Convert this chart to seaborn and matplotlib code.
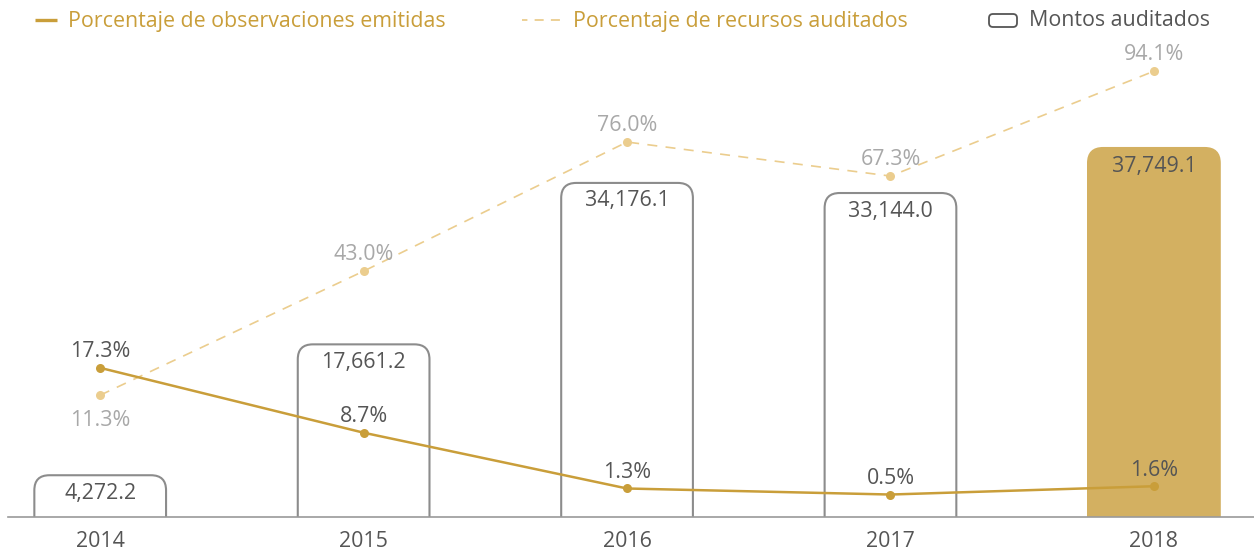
import numpy as np
import pandas as pd
import matplotlib
matplotlib.use('Agg')
import matplotlib.pyplot as plt
import seaborn as sns
from matplotlib.patches import FancyBboxPatch
from matplotlib.lines import Line2D

# data
years = ['2014', '2015', '2016', '2017', '2018']
montos = [4272.2, 17661.2, 34176.1, 33144.0, 37749.1]
pct_observaciones = [17.3, 8.7, 1.3, 0.5, 1.6]
pct_recursos = [11.3, 43.0, 76.0, 67.3, 94.1]
recursos_label_below = [True, False, False, False, False]

GOLD = '#C99E3A'
GOLD_LIGHT = '#EBCD8E'
BAR_FILL = '#D3B061'
OUTLINE = '#8C8C8C'
TEXT = '#555555'
TEXT_LIGHT = '#A8A8A8'
FS = 15.4

sns.set_style('white')
plt.rcParams['font.family'] = ['Open Sans', 'DejaVu Sans']

W, H = 1254, 554
fig = plt.figure(figsize=(W / 100, H / 100), dpi=100)
ax = fig.add_axes([8 / W, 37 / H, 1 - 8 / W, 517 / H])

# ------------------------------------------------------------
# bars (Montos auditados)
# ------------------------------------------------------------
df = pd.DataFrame({'year': years, 'monto': montos})
sns.barplot(data=df, x='year', y='monto', ax=ax, width=0.5, color='white')

xlim = (-0.35, 4.38)
ylim = (0, 52890)
ax.set_xlim(xlim)
ax.set_ylim(ylim)

# swap the square bars for rounded-top ones
xpp = (xlim[1] - xlim[0]) / (W - 8)
ypp = (ylim[1] - ylim[0]) / 517
asp = ypp / xpp
r = 15 * xpp
bars = list(ax.patches)
for i, p in enumerate(bars):
    x0, w, h = p.get_x(), p.get_width(), p.get_height()
    p.remove()
    last = i == len(bars) - 1
    fb = FancyBboxPatch((x0, -r * asp), w, h + r * asp,
                        boxstyle=f'round,pad=0,rounding_size={r}',
                        mutation_aspect=asp,
                        fc=BAR_FILL if last else 'white',
                        ec=BAR_FILL if last else OUTLINE,
                        lw=1.5, zorder=2)
    ax.add_patch(fb)
    ax.annotate(f'{montos[i]:,.1f}', (i, montos[i]), xytext=(0, -13),
                textcoords='offset points', ha='center', va='center',
                fontsize=FS, color=TEXT, zorder=3)

ax.set_xlabel('')
ax.set_ylabel('')
ax.set_yticks([])
for s in ['left', 'top', 'right']:
    ax.spines[s].set_visible(False)
ax.spines['bottom'].set_color('#9A9A9A')
ax.spines['bottom'].set_linewidth(1.2)
ax.tick_params(axis='x', which='major', length=0, pad=10, labelsize=FS, labelcolor=TEXT)
xpos = np.arange(len(years))
ax.set_xticks(xpos[:-1] + 0.5, minor=True)
ax.tick_params(axis='x', which='minor', length=5, width=1, color='#9A9A9A', direction='out')

# ------------------------------------------------------------
# dashed line (Porcentaje de recursos auditados)
# ------------------------------------------------------------
ax_rec = ax.twinx()
sns.lineplot(x=xpos, y=pct_recursos, ax=ax_rec, color=GOLD_LIGHT, lw=1.2,
             linestyle=(0, (6, 5)), marker='o', markersize=6.5,
             markeredgewidth=0)
ax_rec.set_ylim(-19.84, 112.3)
ax_rec.set_xlim(xlim)
ax_rec.set_axis_off()
for i, v in enumerate(pct_recursos):
    dy = -18 if recursos_label_below[i] else 12
    ax_rec.annotate(f'{v:.1f}%', (i, v), xytext=(0, dy), textcoords='offset points',
                    ha='center', va='center', fontsize=FS, color=TEXT_LIGHT)

# ------------------------------------------------------------
# solid line (Porcentaje de observaciones emitidas)
# ------------------------------------------------------------
ax_obs = ax.twinx()
sns.lineplot(x=xpos, y=pct_observaciones, ax=ax_obs, color=GOLD, lw=1.8,
             marker='o', markersize=6.5, markeredgewidth=0)
ax_obs.set_ylim(-2.48, 66.09)
ax_obs.set_xlim(xlim)
ax_obs.set_axis_off()
for i, v in enumerate(pct_observaciones):
    ax_obs.annotate(f'{v:.1f}%', (i, v), xytext=(0, 11.5), textcoords='offset points',
                    ha='center', va='center', fontsize=FS, color=TEXT)

# ------------------------------------------------------------
# legend across the top
# ------------------------------------------------------------
def fx(px):
    return px / W

def fy(px):
    return 1 - px / H

fig.add_artist(Line2D([fx(35), fx(57)], [fy(20), fy(20)], transform=fig.transFigure,
                      color=GOLD, lw=2.4, solid_capstyle='butt'))
fig.text(fx(68), fy(21), 'Porcentaje de observaciones emitidas', ha='left', va='center',
         fontsize=FS, color=GOLD)

fig.add_artist(Line2D([fx(522), fx(560)], [fy(20), fy(20)], transform=fig.transFigure,
                      color=GOLD_LIGHT, lw=1.3, linestyle=(2, (5, 4))))
fig.text(fx(573), fy(21), 'Porcentaje de recursos auditados', ha='left', va='center',
         fontsize=FS, color=GOLD)

fig.add_artist(FancyBboxPatch((fx(989), fy(27)), 28 / W, 13 / H,
                              boxstyle=f'round,pad=0,rounding_size={4 / W}',
                              mutation_aspect=W / H, transform=fig.transFigure,
                              fc='white', ec=TEXT, lw=1.3))
fig.text(fx(1029), fy(21), 'Montos auditados', ha='left', va='center',
         fontsize=FS, color=TEXT)

fig.savefig('out.png', dpi=100)
plt.close()
